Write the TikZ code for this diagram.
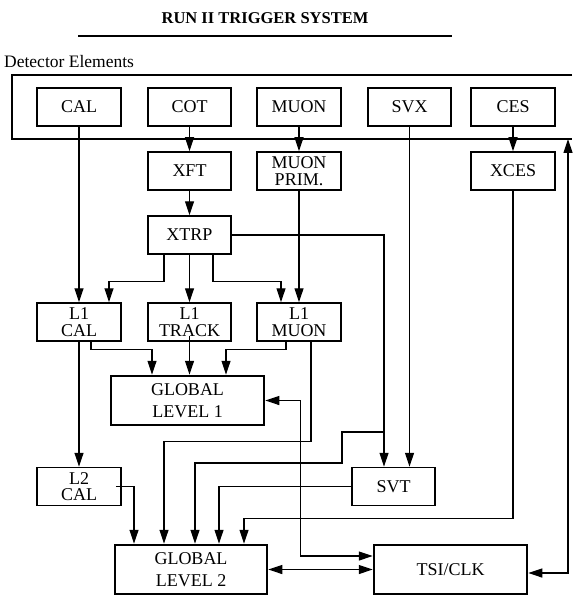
\documentclass[tikz,border=0pt]{standalone}
\usepackage{fontspec}
\setmainfont{Liberation Serif}
\usetikzlibrary{arrows.meta,calc}
\tikzset{
  blk/.style={draw, line width=1.5pt, minimum width=83pt, minimum height=38pt,
    inner sep=0pt, align=center, font=\fontsize{18}{16.5}\selectfont},
  bigblk/.style={blk, line width=2.5pt, minimum width=153pt, minimum height=49pt,
    font=\fontsize{18}{21.5}\selectfont},
  wire/.style={line width=1.2pt},
  arr/.style={wire, -{Triangle[length=14pt,width=9pt]}},
  dbl/.style={wire, {Triangle[length=14pt,width=9pt]}-{Triangle[length=14pt,width=9pt]}}
}
\begin{document}
\begin{tikzpicture}[x=1pt,y=-1pt]
          \useasboundingbox (0,0) rectangle (572,596);

          % title and detector frame
          \node [font=\fontsize{16.5}{18}\selectfont\bfseries] (title) at (265,18) {RUN II TRIGGER SYSTEM};
          \draw [line width=1.4pt] (78,36) -- (452,36);
          \node [anchor=west, inner sep=0pt, font=\fontsize{17.5}{19}\selectfont] (detlbl) at (4,62) {Detector Elements};
          \draw [line width=1.3pt] (572,75) -- (12,75) -- (12,139) -- (572,139);
          \coordinate (detfoot) at (568,139);

          % detector elements
          \node [blk, minimum width=84pt] (cal) at (79,107) {CAL};
          \node [blk] (cot) at (189.5,107) {COT};
          \node [blk, minimum width=84pt] (muon) at (299,107) {MUON};
          \node [blk] (svx) at (409.5,107) {SVX};
          \node [blk, minimum width=84pt] (ces) at (513,107) {CES};

          % first processing stage
          \node [blk] (xft) at (189.5,171) {XFT};
          \node [blk, minimum width=84pt] (mprim) at (299,171) {MUON\\PRIM.};
          \node [blk, minimum width=84pt] (xces) at (513,171) {XCES};
          \node [blk] (xtrp) at (189.5,235) {XTRP};

          % level 1
          \node [blk, minimum width=84pt] (l1cal) at (79,322) {L1\\CAL};
          \node [blk] (l1trk) at (189.5,322) {L1\\TRACK};
          \node [blk, minimum width=84pt] (l1muon) at (299,322) {L1\\MUON};
          \node [bigblk] (gl1) at (187.5,400.5) {GLOBAL\\LEVEL 1};

          % level 2
          \node [blk, minimum width=84pt] (l2cal) at (79,486.5) {L2\\CAL};
          \node [blk] (svt) at (393.5,486.5) {SVT};
          \node [bigblk, minimum width=152pt] (gl2) at (191,569.5) {GLOBAL\\LEVEL 2};
          \node [bigblk] (tsi) at (450.5,569.5) {TSI/CLK};

          % straight feeds
          \draw [arr] (cal.south) -- (l1cal.north);
          \draw [arr] (cot) -- (xft);
          \draw [arr] (xft) -- (xtrp);
          \draw [arr] (muon) -- (mprim);
          \draw [arr] (mprim.south) -- (l1muon.north);
          \draw [arr] (ces) -- (xces);
          \draw [arr] (xtrp.south) -- (l1trk.north);
          \draw [arr] (l1cal.south) -- (l2cal.north);
          \draw [arr] (svx.south) -- (svx.south |- svt.north);

          % XTRP fan-out
          \draw [arr] ([xshift=-25.5pt]xtrp.south) -- ++(0,27) -| ([xshift=30pt]l1cal.north);
          \draw [arr] ([xshift=23.5pt]xtrp.south) -- ++(0,27) -| ([xshift=-18pt]l1muon.north);
          \draw [arr] (xtrp.east) -| ([xshift=-9.5pt]svt.north);
          \coordinate (tap) at (384,432);
          \draw [arr] (tap) -- ++(-42,0) -- ++(0,31) -| ([xshift=4pt]gl2.north);

          % into global level 1
          \draw [arr] ([xshift=12pt]l1cal.south) -- ++(0,8) -| ([xshift=-35.5pt]gl1.north);
          \draw [arr] ([yshift=6pt]l1trk.south) -- (l1trk.south |- gl1.north);
          \draw [arr] ([xshift=-13pt]l1muon.south) -- ++(0,8) -| ([xshift=38.5pt]gl1.north);

          % into global level 2
          \draw [arr] ([xshift=-6pt]l2cal.east) -| ([xshift=-57pt]gl2.north);
          \draw [arr] ([xshift=12pt]l1muon.south) -- ++(0,100) -| ([xshift=-27pt]gl2.north);
          \draw [arr] (svt.west) -| ([xshift=28pt]gl2.north);
          \draw [arr] (xces.south) -- ++(0,328) -| ([xshift=53pt]gl2.north);

          % clock links
          \draw [dbl] (gl1.east) -- ++(35,0) |- ([yshift=13.5pt]tsi.west);
          \draw [dbl] (gl2.east) -- (gl2.east -| tsi.west);
          \draw [dbl] ([yshift=-3.5pt]tsi.east) -| (detfoot);
        \end{tikzpicture}
\end{document}
